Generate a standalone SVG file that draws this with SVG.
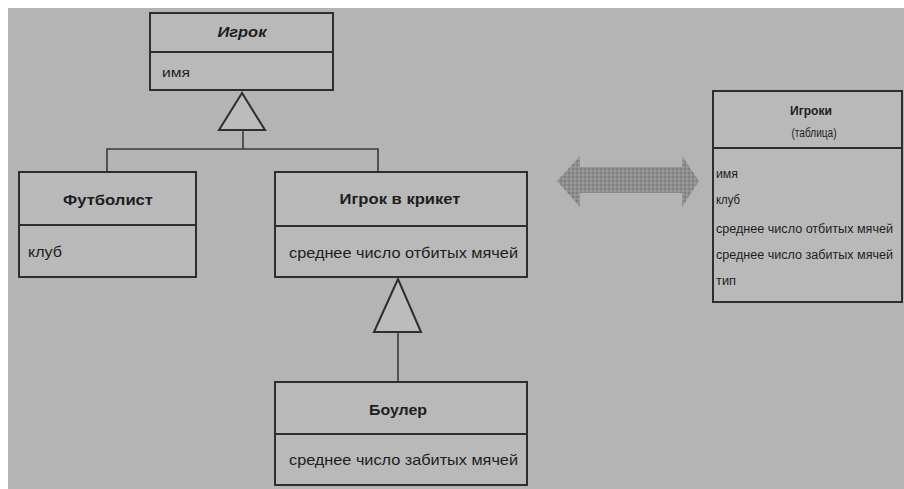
<svg xmlns="http://www.w3.org/2000/svg" width="904" height="489" viewBox="0 0 904 489">
<style>
.box{fill:#b9b9b9;stroke:#2e2e2e;stroke-width:2}
.div{stroke:#2e2e2e;stroke-width:2}
.ln{fill:none;stroke:#3a3a3a;stroke-width:1.6}
.tri{fill:#bcbcbc;stroke:#2e2e2e;stroke-width:2}
.t{font-family:"Liberation Sans",Arial,sans-serif;fill:#1e1e1e}
.ttl{font-size:15px;font-weight:bold}
.att{font-size:14px}
.sm{font-size:12px}
</style>
<defs>
<pattern id="dots" width="4" height="4" patternUnits="userSpaceOnUse">
<rect width="4" height="4" fill="#8e8e8e"/>
<circle cx="1" cy="1" r="0.9" fill="#7a7a7a"/>
<circle cx="3" cy="3" r="0.9" fill="#a0a0a0"/>
</pattern>
</defs>
<rect width="904" height="489" fill="#ffffff"/>
<rect x="8" y="8" width="896" height="481" fill="#b4b4b4"/>

<g id="connectors">
<polygon class="tri" points="242,93 219,130 265,130"/>
<polyline class="ln" points="243,130 243,149"/>
<polyline class="ln" points="107,172 107,149 378,149 378,172"/>
<polygon class="tri" points="398,279 374,332 421,332"/>
<polyline class="ln" points="398,332 398,382"/>
<polygon points="557,181 580,156 580,167 682,167 682,156 699,181 682,207 682,193 580,193 580,207" fill="url(#dots)"/>
</g>

<g id="igrok">
<rect class="box" x="150" y="13" width="183" height="77"/>
<line class="div" x1="150" y1="52" x2="333" y2="52"/>
<text class="t ttl" x="242" y="37" text-anchor="middle" font-style="italic" textLength="49" lengthAdjust="spacingAndGlyphs">Игрок</text>
<text class="t sm" x="162" y="77" textLength="28" lengthAdjust="spacingAndGlyphs">имя</text>
</g>

<g id="futbolist">
<rect class="box" x="19" y="172" width="177" height="105"/>
<line class="div" x1="19" y1="225" x2="196" y2="225"/>
<text class="t ttl" x="108" y="205" text-anchor="middle" textLength="90" lengthAdjust="spacingAndGlyphs">Футболист</text>
<text class="t att" x="28" y="257" textLength="34" lengthAdjust="spacingAndGlyphs">клуб</text>
</g>

<g id="kriket">
<rect class="box" x="275" y="172" width="252" height="105"/>
<line class="div" x1="275" y1="226" x2="527" y2="226"/>
<text class="t ttl" x="400" y="204" text-anchor="middle" textLength="121" lengthAdjust="spacingAndGlyphs">Игрок в крикет</text>
<text class="t att" x="289" y="258" textLength="229" lengthAdjust="spacingAndGlyphs">среднее число отбитых мячей</text>
</g>

<g id="bouler">
<rect class="box" x="275" y="382" width="252" height="103"/>
<line class="div" x1="275" y1="434" x2="527" y2="434"/>
<text class="t ttl" x="398" y="415" text-anchor="middle" textLength="58" lengthAdjust="spacingAndGlyphs">Боулер</text>
<text class="t att" x="289" y="465" textLength="229" lengthAdjust="spacingAndGlyphs">среднее число забитых мячей</text>
</g>

<g id="igroki">
<rect class="box" x="713" y="91" width="189" height="211"/>
<line class="div" x1="713" y1="148" x2="902" y2="148"/>
<text class="t sm" x="811" y="115" text-anchor="middle" font-weight="bold" textLength="42" lengthAdjust="spacingAndGlyphs">Игроки</text>
<text class="t sm" x="814" y="137" text-anchor="middle" font-size="11" textLength="45" lengthAdjust="spacingAndGlyphs">(таблица)</text>
<text class="t sm" x="716" y="178" textLength="22" lengthAdjust="spacingAndGlyphs">имя</text>
<text class="t sm" x="716" y="204" textLength="24" lengthAdjust="spacingAndGlyphs">клуб</text>
<text class="t sm" x="716" y="233" textLength="177" lengthAdjust="spacingAndGlyphs">среднее число отбитых мячей</text>
<text class="t sm" x="716" y="259" textLength="177" lengthAdjust="spacingAndGlyphs">среднее число забитых мячей</text>
<text class="t sm" x="716" y="285" textLength="20" lengthAdjust="spacingAndGlyphs">тип</text>
</g>
</svg>
